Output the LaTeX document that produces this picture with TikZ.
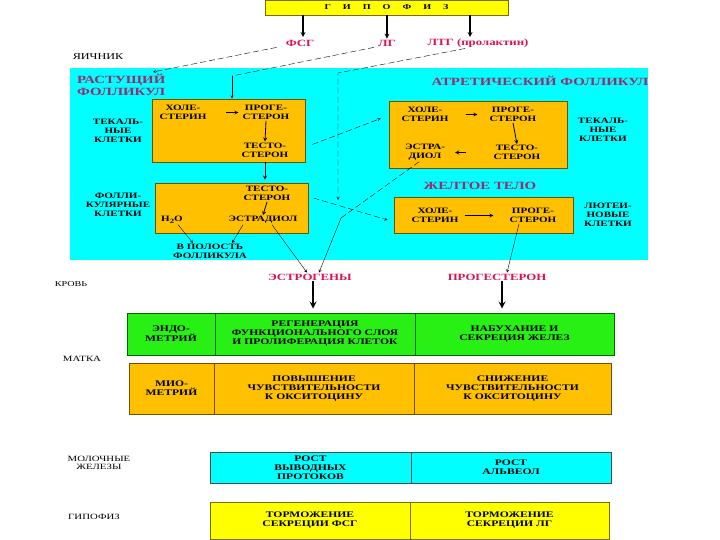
\documentclass[tikz,border=0pt]{standalone}
\usepackage{fontspec}
\newfontfamily\lbl[FakeStretch=1.35]{Liberation Serif}
\usetikzlibrary{positioning,calc}
\definecolor{aqua}{RGB}{0,255,255}
\definecolor{amber}{RGB}{255,192,0}
\definecolor{lime}{RGB}{40,240,20}
\definecolor{lemon}{RGB}{255,255,0}
\definecolor{crimson}{RGB}{215,20,80}
\definecolor{plum}{RGB}{160,40,110}
\definecolor{rim}{RGB}{110,80,0}
\definecolor{leaf}{RGB}{0,100,0}
\definecolor{moss}{RGB}{120,110,0}

\begin{document}
\begin{tikzpicture}[x=1pt,y=-1pt,
	txt/.style={font=\lbl\bfseries\fontsize{8.2}{9}\selectfont,align=center,inner sep=1pt},
	lab/.style={font=\lbl\fontsize{8}{8.5}\selectfont,align=center,inner sep=1pt},
	hormone/.style={font=\lbl\bfseries\fontsize{9.5}{10}\selectfont,text=crimson,inner sep=1pt},
	title/.style={font=\lbl\bfseries\fontsize{11}{12}\selectfont,text=plum,align=left,inner sep=1pt},
	box/.style={draw=rim,fill=amber,line width=0.8pt},
	cell/.style={draw=#1,line width=1pt,font=\lbl\bfseries\fontsize{8.6}{9}\selectfont,align=center,inner sep=0pt},
	tip/.style={thick,->,>=stealth},
	dashline/.style={dash pattern=on 6pt off 3pt}]
	\useasboundingbox (0,0) rectangle (720,540);
%	\draw[lightgray,step=20] (0,0) grid (720,540);
	\fill[aqua] (70,68) rectangle (648,260);
	% hypophysis and its hormones
	\node[draw=moss,fill=lemon,line width=0.8pt,minimum width=243pt,minimum height=15pt,inner sep=0pt,font=\lbl\bfseries\fontsize{7.5}{8}\selectfont] (gip) at (386.5,7.5)
		{Г\hspace{12pt}И\hspace{12pt}П\hspace{12pt}О\hspace{12pt}Ф\hspace{12pt}И\hspace{12pt}З};
	\node[hormone] (fsg) at (300,43) {ФСГ};
	\node[hormone] (lg) at (387,43) {ЛГ};
	\node[hormone] (ltg) at (478,43) {ЛТГ (пролактин)};
	\draw[line width=1.2pt,->,>=stealth] (gip.south -| 303,0) -- (303,37);
	\draw[line width=1.2pt,->,>=stealth] (gip.south -| lg) -- (lg.north);
	\draw[line width=1.2pt,->,>=stealth] (gip.south -| 470,0) -- (470,37);
	\node[lab,font=\lbl\fontsize{9}{10}\selectfont] (ovary) at (98,57) {ЯИЧНИК};
	\node[title,anchor=west] (grow) at (76,85) {РАСТУЩИЙ\\ФОЛЛИКУЛ};
	\node[title] (atr) at (540,81) {АТРЕТИЧЕСКИЙ ФОЛЛИКУЛ};
	\node[title] (yellowbody) at (480,186) {ЖЕЛТОЕ ТЕЛО};
	% growing follicle
	\node[box,minimum width=153pt,minimum height=63pt] (box1) at (228.5,130.5) {};
	\node[txt] (hol1) at (183,112.5) {ХОЛЕ-\\СТЕРИН};
	\node[txt] (prog1) at (266,112.5) {ПРОГЕ-\\СТЕРОН};
	\node[txt] (test1) at (265,150) {ТЕСТО-\\СТЕРОН};
	\node[txt] (theca1) at (118,131) {ТЕКАЛЬ-\\НЫЕ\\КЛЕТКИ};
	\draw[tip] ([xshift=18pt]hol1.east) -- ([xshift=-3pt]prog1.west);
	\draw[tip] (prog1.south) -- (test1.north);
	\node[box,minimum width=153pt,minimum height=50pt] (box2) at (231.5,208) {};
	\draw[tip] (box1.south -| test1) -- ([yshift=3pt]box2.north -| test1);
	\node[txt] (test2) at (267,193.5) {ТЕСТО-\\СТЕРОН};
	\node[txt] (estr2) at (263,220) {ЭСТРАДИОЛ};
	\node[txt] (water) at (172,220) {H{\fontsize{6.5}{7}\selectfont\raisebox{-1.5pt}{2}}O};
	\node[txt] (cav) at (210,251.5) {В ПОЛОСТЬ\\ФОЛЛИКУЛА};
	\node[txt] (foll) at (118,205) {ФОЛЛИ-\\КУЛЯРНЫЕ\\КЛЕТКИ};
	\draw[tip] (test2.south) -- (estr2.north);
	\draw[->,>=stealth] ([xshift=6pt]water.south) -- ([xshift=-17pt]cav.north);
	\draw[->,>=stealth] ([xshift=-20pt]estr2.south) -- ([xshift=22pt]cav.north);
	% atretic follicle
	\node[box,minimum width=178pt,minimum height=67pt] (box3) at (478,134.5) {};
	\node[txt] (hol3) at (425,114.5) {ХОЛЕ-\\СТЕРИН};
	\node[txt] (prog3) at (513,114.5) {ПРОГЕ-\\СТЕРОН};
	\node[txt] (test3) at (517,152.5) {ТЕСТО-\\СТЕРОН};
	\node[txt] (estr3) at (425,152.5) {ЭСТРА-\\ДИОЛ};
	\node[txt] (theca3) at (603,130) {ТЕКАЛЬ-\\НЫЕ\\КЛЕТКИ};
	\draw[tip] ([xshift=16pt]hol3.east) -- ([xshift=-11pt]prog3.west);
	\draw[tip] (prog3.south) -- (test3.north);
	\draw[tip] ([xshift=-26pt]test3.west) -- ([xshift=9pt]estr3.east);
	% corpus luteum
	\node[box,minimum width=179pt,minimum height=36pt] (box4) at (483.5,215) {};
	\node[txt] (hol4) at (435,215.5) {ХОЛЕ-\\СТЕРИН};
	\node[txt] (prog4) at (533,215.5) {ПРОГЕ-\\СТЕРОН};
	\node[txt] (lut) at (608,214.5) {ЛЮТЕИ-\\НОВЫЕ\\КЛЕТКИ};
	\draw[tip] ([xshift=5pt]hol4.east) -- ([xshift=-15pt]prog4.west);
	% hormone routes
	\coordinate (fsgtip) at (153,72);
	\coordinate (lgturn) at (232,76);
	\coordinate (ltgturn) at (338,73);
	\coordinate (ltgtip) at (338,200);
	\coordinate (brk) at (341,218);
	\draw[dashline,->,>=stealth] ([xshift=-8pt]fsg.south west) -- (fsgtip);
	\draw[dashline] ([xshift=-3pt]lg.south west) -- (lgturn);
	\draw[->,>=stealth] (lgturn) -- ([xshift=3.5pt]box1.north);
	\draw[dashline,->,>=stealth] ([xshift=-13pt]ltg.south) -- (ltgturn) -- (ltgtip);
	\draw[dashline,->,>=stealth] ([shift={(7,14)}]box1.east) -- ([shift={(-8,-16)}]box3.west);
	\draw[dashline,->,>=stealth] ([shift={(5,-10)}]box2.east) -- ([shift={(-6,5)}]box4.west);
	\node[hormone] (estrogen) at (310,277) {ЭСТРОГЕНЫ};
	\node[hormone] (progest) at (497,277) {ПРОГЕСТЕРОН};
	\draw[->,>=stealth] ([xshift=9pt]estr2.south) -- ([xshift=-3pt]estrogen.north);
	\draw[dashline] ([xshift=-6pt]estr3.south) -- (brk);
	\draw[->,>=stealth] (brk) -- ([xshift=9pt]estrogen.north);
	\draw[->,>=stealth] ([xshift=-14pt]prog4.south) -- ([xshift=10pt]progest.north);
	\node[lab,font=\lbl\fontsize{7.5}{8}\selectfont] (blood) at (71,284) {КРОВЬ};
	% target organs
	\node[cell=leaf,fill=lime,minimum width=88pt,minimum height=42pt] (endo) at (171,334) {ЭНДО-\\МЕТРИЙ};
	\node[cell=leaf,fill=lime,minimum width=200pt,minimum height=42pt] (regen) at (315,334) {РЕГЕНЕРАЦИЯ\\ФУНКЦИОНАЛЬНОГО СЛОЯ\\И ПРОЛИФЕРАЦИЯ КЛЕТОК};
	\node[cell=leaf,fill=lime,minimum width=199pt,minimum height=42pt] (swell) at (514.5,334) {НАБУХАНИЕ И\\СЕКРЕЦИЯ ЖЕЛЕЗ};
	\node[lab] (uterus) at (82,359) {МАТКА};
	\node[cell=rim,fill=amber,minimum width=85pt,minimum height=51pt] (myo) at (171.5,388.5) {МИО-\\МЕТРИЙ};
	\node[cell=rim,fill=amber,minimum width=200pt,minimum height=51pt] (sensup) at (314,388.5) {ПОВЫШЕНИЕ\\ЧУВСТВИТЕЛЬНОСТИ\\К ОКСИТОЦИНУ};
	\node[cell=rim,fill=amber,minimum width=197pt,minimum height=51pt] (sensdown) at (512.5,388.5) {СНИЖЕНИЕ\\ЧУВСТВИТЕЛЬНОСТИ\\К ОКСИТОЦИНУ};
	\node[lab] (mamm) at (99,463) {МОЛОЧНЫЕ\\ЖЕЛЕЗЫ};
	\node[cell=black!70,fill=aqua,minimum width=201pt,minimum height=31pt] (ducts) at (310.5,467.5) {РОСТ\\ВЫВОДНЫХ\\ПРОТОКОВ};
	\node[cell=black!70,fill=aqua,minimum width=200pt,minimum height=31pt] (alv) at (511,467.5) {РОСТ\\АЛЬВЕОЛ};
	\node[lab] (hyp) at (94,517) {ГИПОФИЗ};
	\node[cell=moss,fill=lemon,minimum width=200pt,minimum height=37pt] (stopfsg) at (310,520.5) {ТОРМОЖЕНИЕ\\СЕКРЕЦИИ ФСГ};
	\node[cell=moss,fill=lemon,minimum width=199pt,minimum height=37pt] (stoplg) at (509.5,520.5) {ТОРМОЖЕНИЕ\\СЕКРЕЦИИ ЛГ};
	\draw[line width=2pt,->,>=stealth,shorten >=4pt] ([xshift=3pt]estrogen.south) -- ([xshift=3pt]estrogen.south |- regen.north);
	\draw[line width=2pt,->,>=stealth,shorten >=4pt] ([xshift=5pt]progest.south) -- ([xshift=5pt]progest.south |- swell.north);
\end{tikzpicture}
\end{document}
